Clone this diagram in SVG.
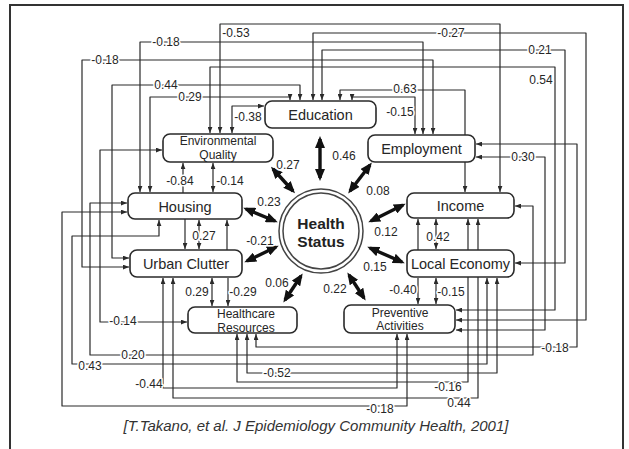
<svg xmlns="http://www.w3.org/2000/svg" width="629" height="449" viewBox="0 0 629 449">
  <defs>
    <style>
      .ln{fill:none;stroke:#2a2a2a;stroke-width:1.2;stroke-linejoin:round}
      .dbl{marker-start:url(#ah);marker-end:url(#ah)}
      .one{marker-end:url(#ah)}
      .tk{fill:none;stroke:#111;stroke-width:3.4;marker-start:url(#th);marker-end:url(#th)}
      .nb{fill:#fff;stroke:#2a2a2a;stroke-width:1.6}
      .nt{font-family:"Liberation Sans",Arial,sans-serif;font-size:14.5px;fill:#262626;text-anchor:middle}
      .nt2{font-family:"Liberation Sans",Arial,sans-serif;font-size:12px;fill:#262626;text-anchor:middle}
      .lb{font-family:"Liberation Sans",Arial,sans-serif;font-size:12px;fill:#262626;text-anchor:middle;paint-order:stroke;stroke:#fff;stroke-width:3px;stroke-linejoin:round}
      .hs{font-family:"Liberation Sans",Arial,sans-serif;font-size:15.5px;font-weight:bold;fill:#222;text-anchor:middle}
      .cap{font-family:"Liberation Sans",Arial,sans-serif;font-size:15px;font-style:italic;fill:#333;text-anchor:middle}
    </style>
    <marker id="ah" viewBox="0 0 10 8" refX="10" refY="4" markerWidth="6" markerHeight="5" markerUnits="userSpaceOnUse" orient="auto-start-reverse">
      <path d="M0,0 L10,4 L0,8 z" fill="#2a2a2a"/>
    </marker>
    <marker id="th" viewBox="0 0 12 10" refX="9" refY="5" markerWidth="12" markerHeight="10" markerUnits="userSpaceOnUse" orient="auto-start-reverse">
      <path d="M0,0 L12,5 L0,10 z" fill="#111"/>
    </marker>
  </defs>

  <rect width="629" height="449" fill="#fff"/>
  <!-- outer frame -->
  <rect x="10" y="5" width="613" height="470" fill="none" stroke="#333" stroke-width="2"/>

  <!-- thin connectors between factors -->
  <g id="connectors">
    <path class="ln dbl" d="M220,133 V24 H500 V192"/>
    <path class="ln dbl" d="M140,192 V42 H423 V134"/>
    <path class="ln dbl" d="M129,267 H82 V60 H433 V134"/>
    <path class="ln dbl" d="M129,258 H112 V85 H300 V100"/>
    <path class="ln dbl" d="M150,192 V97 H290 V100"/>
    <path class="ln dbl" d="M232,133 V106 H264"/>
    <path class="ln dbl" d="M313,100 V33 H586 V320 H456"/>
    <path class="ln dbl" d="M322,100 V50 H565 V263 H515"/>
    <path class="ln dbl" d="M340,100 V90 H465 V192"/>
    <path class="ln dbl" d="M415,134 V97 H352 V100"/>
    <path class="ln dbl" d="M210,133 V67 H555 V310 H456"/>
    <path class="ln dbl" d="M476,157 H545 V330 H456"/>
    <path class="ln dbl" d="M476,144 H577 V347 H256 V334"/>
    <path class="ln dbl" d="M515,206 H533 V355 H90 V203 H127"/>
    <path class="ln dbl" d="M159,220 V236 H72 V364 H487 V278"/>
    <path class="ln dbl" d="M127,212 H62 V406 H407 V334"/>
    <path class="ln dbl" d="M162,150 H100 V322 H187"/>
    <path class="ln dbl" d="M173,278 V398 H478 V219"/>
    <path class="ln dbl" d="M163,278 V388 H397 V334"/>
    <path class="ln dbl" d="M237,334 V382 H468 V219"/>
    <path class="ln dbl" d="M247,334 V373 H497 V278"/>
    <path class="ln one" d="M227,250 V220"/>
    <path class="ln one" d="M185,219 V249"/>
    <path class="ln dbl" d="M199,220 V249"/>
    <path class="ln one" d="M183,193 V163"/>
    <path class="ln dbl" d="M213,163 V192"/>
    <path class="ln one" d="M418,250 V219"/>
    <path class="ln dbl" d="M436,219 V249"/>
    <path class="ln one" d="M418,278 V304"/>
    <path class="ln dbl" d="M436,278 V304"/>
    <path class="ln dbl" d="M212,278 V306"/>
    <path class="ln one" d="M228,278 V306"/>
  </g>

  <!-- factor boxes -->
  <g id="education"><rect class="nb" x="265" y="101" width="111" height="27" rx="7"/><text class="nt" x="320.5" y="120">Education</text></g>
  <g id="environmental-quality"><rect class="nb" x="163" y="134" width="110" height="28" rx="7"/><text class="nt2" x="218" y="145">Environmental</text><text class="nt2" x="218" y="158.5">Quality</text></g>
  <g id="employment"><rect class="nb" x="368" y="135" width="107" height="27" rx="7"/><text class="nt" x="421.5" y="153.5">Employment</text></g>
  <g id="housing"><rect class="nb" x="128" y="193" width="114" height="26" rx="7"/><text class="nt" x="185" y="211.5">Housing</text></g>
  <g id="urban-clutter"><rect class="nb" x="130" y="250" width="112" height="27" rx="7"/><text class="nt" x="186" y="268.5">Urban Clutter</text></g>
  <g id="income"><rect class="nb" x="407" y="193" width="107" height="25" rx="7"/><text class="nt" x="460.5" y="210.5">Income</text></g>
  <g id="local-economy"><rect class="nb" x="407" y="250" width="107" height="27" rx="7"/><text class="nt" x="460.5" y="268.5">Local Economy</text></g>
  <g id="healthcare-resources"><rect class="nb" x="188" y="307" width="109" height="26" rx="7"/><text class="nt2" x="246" y="318">Healthcare</text><text class="nt2" x="246" y="331.5">Resources</text></g>
  <g id="preventive-activities"><rect class="nb" x="344" y="305" width="111" height="28" rx="7"/><text class="nt2" x="400" y="316.5">Preventive</text><text class="nt2" x="400" y="330">Activities</text></g>
  <g id="health-status">
    <circle cx="321" cy="231" r="42" fill="#fff" stroke="#444" stroke-width="1.5"/>
    <circle cx="321" cy="231" r="38" fill="#fff" stroke="#444" stroke-width="1.5"/>
    <text class="hs" x="321" y="229">Health</text>
    <text class="hs" x="321" y="246.5">Status</text>
  </g>

  <!-- bold links to Health Status -->
  <g id="health-links">
    <path class="tk" d="M320,139 V178"/>
    <path class="tk" d="M273,169 L293,191"/>
    <path class="tk" d="M370,165 L350,191"/>
    <path class="tk" d="M246,209 L275,221"/>
    <path class="tk" d="M247,261 L276,247"/>
    <path class="tk" d="M371,221 L403,205"/>
    <path class="tk" d="M370,248 L402,262"/>
    <path class="tk" d="M285,300 L301,276"/>
    <path class="tk" d="M349,275 L364,298"/>
  </g>

  <!-- coefficients -->
  <g id="labels">
    <text class="lb" x="236" y="37">-0.53</text>
    <text class="lb" x="166" y="46">-0.18</text>
    <text class="lb" x="105" y="64">-0.18</text>
    <text class="lb" x="166" y="89">0.44</text>
    <text class="lb" x="190" y="101">0.29</text>
    <text class="lb" x="248" y="121">-0.38</text>
    <text class="lb" x="451" y="37">-0.27</text>
    <text class="lb" x="540" y="54">0.21</text>
    <text class="lb" x="405" y="93">0.63</text>
    <text class="lb" x="400" y="116">-0.15</text>
    <text class="lb" x="541" y="84">0.54</text>
    <text class="lb" x="523" y="161">0.30</text>
    <text class="lb" x="555" y="352">-0.18</text>
    <text class="lb" x="133" y="359">0.20</text>
    <text class="lb" x="90" y="370">0.43</text>
    <text class="lb" x="380" y="413">-0.18</text>
    <text class="lb" x="123" y="325">-0.14</text>
    <text class="lb" x="459" y="407">0.44</text>
    <text class="lb" x="149" y="388">-0.44</text>
    <text class="lb" x="448" y="391">-0.16</text>
    <text class="lb" x="277" y="377">-0.52</text>
    <text class="lb" x="204" y="240">0.27</text>
    <text class="lb" x="180" y="185">-0.84</text>
    <text class="lb" x="230" y="185">-0.14</text>
    <text class="lb" x="438" y="241">0.42</text>
    <text class="lb" x="403" y="294">-0.40</text>
    <text class="lb" x="451" y="296">-0.15</text>
    <text class="lb" x="197" y="296">0.29</text>
    <text class="lb" x="243" y="296">-0.29</text>
    <text class="lb" x="344" y="160">0.46</text>
    <text class="lb" x="288" y="169">0.27</text>
    <text class="lb" x="378" y="195">0.08</text>
    <text class="lb" x="269" y="206">0.23</text>
    <text class="lb" x="260" y="245">-0.21</text>
    <text class="lb" x="386" y="236">0.12</text>
    <text class="lb" x="375" y="271">0.15</text>
    <text class="lb" x="277" y="287">0.06</text>
    <text class="lb" x="335" y="293">0.22</text>
  </g>

  <text class="cap" x="316" y="431">[T.Takano, et al. J Epidemiology Community Health, 2001]</text>
</svg>
